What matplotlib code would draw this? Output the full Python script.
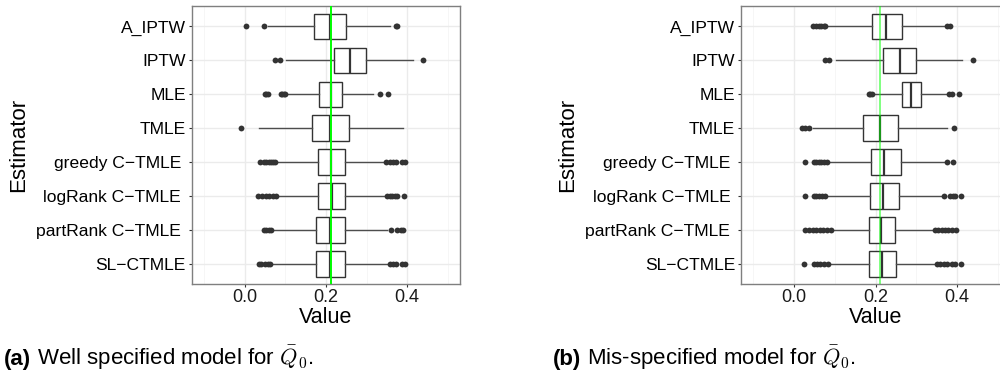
import matplotlib
matplotlib.use("Agg")
import matplotlib.pyplot as plt

plt.rcParams['font.family'] = ['Liberation Sans', 'DejaVu Sans']
plt.rcParams['mathtext.fontset'] = 'cm'

# estimators, top to bottom
estimators = ["A_IPTW", "IPTW", "MLE", "TMLE",
              "greedy C\u2212TMLE ", "logRank C\u2212TMLE ",
              "partRank C\u2212TMLE ", "SL\u2212CTMLE"]

# true value (green line)
truth_well = 0.2125
truth_mis = 0.2118

# (a) well specified model: box summaries
well_q1 = [0.170, 0.219, 0.184, 0.166, 0.180, 0.180, 0.175, 0.175]
well_med = [0.211, 0.260, 0.212, 0.211, 0.212, 0.215, 0.209, 0.211]
well_q3 = [0.250, 0.299, 0.239, 0.256, 0.246, 0.247, 0.248, 0.248]
well_lo = [0.057, 0.102, 0.102, 0.036, 0.080, 0.080, 0.071, 0.070]
well_hi = [0.358, 0.414, 0.316, 0.391, 0.343, 0.346, 0.350, 0.354]
well_fliers = [
    [0.004, 0.047, 0.373, 0.375],
    [0.075, 0.086, 0.439],
    [0.051, 0.054, 0.057, 0.089, 0.093, 0.096, 0.099, 0.332, 0.352],
    [-0.009],
    [0.039, 0.047, 0.053, 0.059, 0.065, 0.071, 0.076,
     0.348, 0.357, 0.365, 0.373, 0.387, 0.395],
    [0.034, 0.043, 0.053, 0.059, 0.071, 0.077,
     0.350, 0.357, 0.362, 0.369, 0.374, 0.393],
    [0.048, 0.053, 0.059, 0.065, 0.360, 0.376, 0.384, 0.389],
    [0.035, 0.040, 0.051, 0.057, 0.063, 0.358, 0.366, 0.373, 0.387, 0.395],
]

# (b) mis-specified model
mis_q1 = [0.191, 0.218, 0.265, 0.169, 0.188, 0.187, 0.184, 0.184]
mis_med = [0.226, 0.259, 0.286, 0.210, 0.222, 0.218, 0.213, 0.216]
mis_q3 = [0.264, 0.299, 0.311, 0.254, 0.262, 0.258, 0.249, 0.251]
mis_lo = [0.081, 0.104, 0.196, 0.047, 0.083, 0.083, 0.094, 0.088]
mis_hi = [0.373, 0.413, 0.379, 0.375, 0.367, 0.363, 0.344, 0.348]
mis_fliers = [
    [0.047, 0.055, 0.061, 0.067, 0.073, 0.077, 0.376, 0.384],
    [0.076, 0.087, 0.438],
    [0.183, 0.187, 0.191, 0.381, 0.387, 0.406],
    [0.020, 0.026, 0.037, 0.393],
    [0.026, 0.049, 0.055, 0.061, 0.067, 0.073, 0.080, 0.375, 0.391],
    [0.026, 0.049, 0.055, 0.061, 0.069, 0.077,
     0.369, 0.383, 0.389, 0.395, 0.411],
    [0.026, 0.038, 0.047, 0.055, 0.064, 0.072, 0.081, 0.090,
     0.346, 0.354, 0.363, 0.371, 0.379, 0.387, 0.398],
    [0.024, 0.049, 0.057, 0.065, 0.073, 0.083,
     0.350, 0.358, 0.367, 0.375, 0.387, 0.395, 0.411],
]


def draw_panel(ax, q1, med, q3, lo, hi, fliers, truth, line_alpha):
    n = len(estimators)
    pos = list(range(n, 0, -1))
    stats = []
    for i in range(n):
        stats.append(dict(q1=q1[i], med=med[i], q3=q3[i],
                          whislo=lo[i], whishi=hi[i], fliers=fliers[i]))
    ax.bxp(stats, positions=pos, widths=0.75, orientation='horizontal',
           patch_artist=True, showcaps=False,
           boxprops=dict(facecolor='white', edgecolor='#333333', linewidth=1),
           medianprops=dict(color='#333333', linewidth=1.6),
           whiskerprops=dict(color='#4d4d4d', linewidth=1),
           flierprops=dict(marker='o', markerfacecolor='#333333',
                           markeredgecolor='none', markersize=4.2))
    ax.axvline(truth, color='#00ff00', lw=1.4, alpha=line_alpha, zorder=5)

    ax.set_xlim(-0.13, 0.53)
    ax.set_ylim(0.4, n + 0.6)
    ax.set_xticks([0.0, 0.2, 0.4])
    ax.set_xticklabels(["0.0", "0.2", "0.4"])
    ax.set_xticks([-0.1, 0.1, 0.3, 0.5], minor=True)
    ax.set_yticks(pos)
    ax.set_yticklabels(estimators)

    ax.set_axisbelow(True)
    ax.grid(which='major', color='#ebebeb', lw=1)
    ax.grid(which='minor', axis='x', color='#f5f5f5', lw=0.6)
    for s in ax.spines.values():
        s.set_color('#7f7f7f')
        s.set_linewidth(1)
    ax.tick_params(axis='both', which='major', length=2.2, width=0.8,
                   color='#333333', pad=2)
    ax.tick_params(axis='y', labelsize=12.6, labelcolor='black')
    ax.tick_params(axis='x', labelsize=13, labelcolor='#1a1a1a', pad=1.5)
    ax.tick_params(which='minor', length=0)

    ax.set_xlabel("Value", fontsize=15.5, va='center')
    ax.xaxis.set_label_coords(0.5, -0.118)
    ax.set_ylabel("Estimator", fontsize=16, va='center')
    ax.yaxis.set_label_coords(-0.645, 0.5)


fig = plt.figure(figsize=(10, 3.74), dpi=100)
ax1 = fig.add_axes([0.1917, 0.2398, 0.2683, 0.7441])
ax2 = fig.add_axes([0.741, 0.2398, 0.269, 0.7441])

draw_panel(ax1, well_q1, well_med, well_q3, well_lo, well_hi, well_fliers,
           truth_well, 1.0)
draw_panel(ax2, mis_q1, mis_med, mis_q3, mis_lo, mis_hi, mis_fliers,
           truth_mis, 0.5)

# captions: bold tag followed by normal text
fig.canvas.draw()
renderer = fig.canvas.get_renderer()
for x0, tag, rest in [(0.004, "(a)", " Well specified model for $\\bar{Q}_0$."),
                      (0.553, "(b)", " Mis-specified model for $\\bar{Q}_0$.")]:
    t = fig.text(x0, 0.024, tag, fontsize=16, weight='bold', va='baseline')
    bb = t.get_window_extent(renderer)
    fig.text(bb.x1 / fig.bbox.width, 0.024, rest, fontsize=16, va='baseline')

fig.savefig("out.png", dpi=100)
